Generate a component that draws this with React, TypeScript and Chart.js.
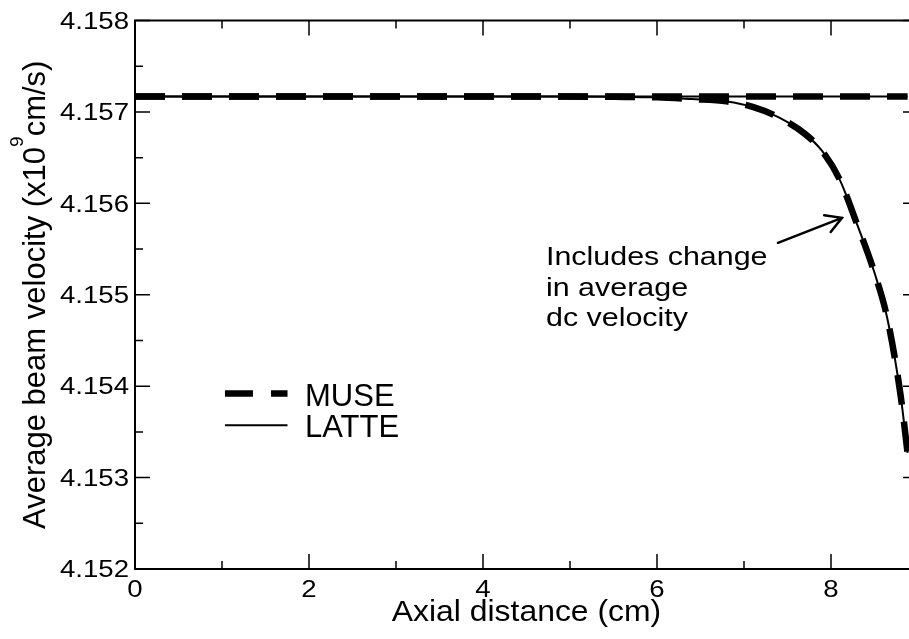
import React, { useEffect, useRef } from "react";
import { Chart, registerables } from "chart.js";
Chart.register(...registerables);

// ---- data ----
const xDistance = [0, 1, 2, 3, 4, 5, 5.5, 6, 6.4, 6.8, 7.1, 7.4, 7.7, 7.9, 8.1, 8.3, 8.5, 8.65, 8.8, 8.88];
const museWithDc = [4.15717, 4.15717, 4.15717, 4.15717, 4.15717, 4.157168, 4.157165, 4.15716, 4.15714, 4.157115, 4.157055, 4.15694, 4.15676, 4.15657, 4.15626, 4.15577, 4.15524, 4.15473, 4.1539, 4.15327];
const latteWithDc = [4.15717, 4.15717, 4.15717, 4.15717, 4.15717, 4.157168, 4.157165, 4.15716, 4.15714, 4.157115, 4.157055, 4.15694, 4.15676, 4.15657, 4.15626, 4.15577, 4.15524, 4.15473, 4.1539, 4.15327];
const museFlat = [4.15717, 4.15717, 4.15717, 4.15717, 4.15717, 4.15717, 4.15717, 4.15717, 4.15717, 4.15717, 4.15717, 4.15717, 4.15717, 4.15717, 4.15717, 4.15717, 4.15717, 4.15717, 4.15717, 4.15717];
const latteFlat = [4.15717, 4.15717, 4.15717, 4.15717, 4.15717, 4.15717, 4.15717, 4.15717, 4.15717, 4.15717, 4.15717, 4.15717, 4.15717, 4.15717, 4.15717, 4.15717, 4.15717, 4.15717, 4.15717, 4.15717];

const xMajorTicks = [0, 2, 4, 6, 8];
const xMinorTicks = [1, 3, 5, 7];
const xTickLabels = ["0", "2", "4", "6", "8"];
const yMajorTicks = [4.152, 4.153, 4.154, 4.155, 4.156, 4.157, 4.158];
const yMinorTicks = [4.1525, 4.1535, 4.1545, 4.1555, 4.1565, 4.1575];
const yTickLabels = ["4.152", "4.153", "4.154", "4.155", "4.156", "4.157", "4.158"];

const xTitle = "Axial distance (cm)";
const yTitleMain = "Average beam velocity (x10";
const yTitleSup = "9";
const yTitleEnd = "cm/s)";
const legendLabels = ["MUSE", "LATTE"];
const noteLines = ["Includes change", "in average", "dc velocity"];
// annotation anchors in data coordinates
const noteAnchor = { x: 4.724, y: [4.155328, 4.15499, 4.15466] };
const arrowTail = { x: 7.39, y: 4.155568 };
const arrowTip = { x: 8.126, y: 4.155841 };
const legendSample = { x0: 1.034, x1: 1.753, y: [4.153921, 4.153572], textX: 1.954, textY: [4.153787, 4.153445] };

const FONT = '"Liberation Sans", Arial, Helvetica, sans-serif';
const CANVAS_W = 930;
const CANVAS_H = 639;

function drawText(
  ctx: CanvasRenderingContext2D,
  s: string,
  x: number,
  y: number,
  size: number,
  sx: number,
  align: CanvasTextAlign
) {
  ctx.save();
  ctx.translate(x, y);
  ctx.scale(sx, 1);
  ctx.font = `${size}px ${FONT}`;
  ctx.textAlign = align;
  ctx.textBaseline = "alphabetic";
  ctx.fillStyle = "#000";
  ctx.fillText(s, 0, 0);
  ctx.restore();
}

const framePlugin = {
  id: "framePlugin",
  afterDatasetsDraw(chart: any) {
    const ctx: CanvasRenderingContext2D = chart.ctx;
    const xs = chart.scales.x;
    const ys = chart.scales.y;
    const { left, right, top, bottom } = chart.chartArea;
    ctx.save();
    ctx.strokeStyle = "#000";
    // ticks
    ctx.lineWidth = 1.5;
    ctx.beginPath();
    const major = 15;
    const minor = 8;
    xMajorTicks.forEach((v) => {
      const p = xs.getPixelForValue(v);
      ctx.moveTo(p, bottom); ctx.lineTo(p, bottom - major);
      ctx.moveTo(p, top); ctx.lineTo(p, top + major);
    });
    xMinorTicks.forEach((v) => {
      const p = xs.getPixelForValue(v);
      ctx.moveTo(p, bottom); ctx.lineTo(p, bottom - minor);
      ctx.moveTo(p, top); ctx.lineTo(p, top + minor);
    });
    yMajorTicks.forEach((v) => {
      const p = ys.getPixelForValue(v);
      ctx.moveTo(left, p); ctx.lineTo(left + major, p);
      ctx.moveTo(right, p); ctx.lineTo(right - major, p);
    });
    yMinorTicks.forEach((v) => {
      const p = ys.getPixelForValue(v);
      ctx.moveTo(left, p); ctx.lineTo(left + minor, p);
      ctx.moveTo(right, p); ctx.lineTo(right - minor, p);
    });
    ctx.stroke();
    // frame
    ctx.lineWidth = 2;
    ctx.strokeRect(left, top, right - left, bottom - top);

    // tick labels
    xMajorTicks.forEach((v, i) => {
      drawText(ctx, xTickLabels[i], xs.getPixelForValue(v), bottom + 27.5, 23, 1.2, "center");
    });
    yMajorTicks.forEach((v, i) => {
      drawText(ctx, yTickLabels[i], left - 6, ys.getPixelForValue(v) + 8.3, 23, 1.2, "right");
    });

    // x title
    drawText(ctx, xTitle, (left + right) / 2, bottom + 52, 29, 1.1, "center");

    // y title (rotated, with superscript)
    ctx.save();
    const cy = (top + bottom) / 2;
    ctx.translate(45, cy);
    ctx.rotate(-Math.PI / 2);
    ctx.fillStyle = "#000";
    ctx.textBaseline = "alphabetic";
    ctx.textAlign = "left";
    ctx.font = `31px ${FONT}`;
    const w1 = ctx.measureText(yTitleMain).width;
    const w3 = ctx.measureText(yTitleEnd).width;
    ctx.font = `19px ${FONT}`;
    const w2 = ctx.measureText(yTitleSup).width;
    const total = w1 + w2 + w3;
    let cx = -total / 2;
    ctx.font = `31px ${FONT}`;
    ctx.fillText(yTitleMain, cx, 0);
    cx += w1;
    ctx.font = `19px ${FONT}`;
    ctx.fillText(yTitleSup, cx, -22);
    cx += w2;
    ctx.font = `31px ${FONT}`;
    ctx.fillText(yTitleEnd, cx, 0);
    ctx.restore();

    // legend
    const lx0 = xs.getPixelForValue(legendSample.x0);
    const lx1 = xs.getPixelForValue(legendSample.x1);
    ctx.save();
    ctx.lineCap = "butt";
    ctx.lineWidth = 6.5;
    ctx.setLineDash([28, 18]);
    ctx.beginPath();
    const ly0 = ys.getPixelForValue(legendSample.y[0]);
    ctx.moveTo(lx0, ly0); ctx.lineTo(lx1, ly0);
    ctx.stroke();
    ctx.setLineDash([]);
    ctx.lineWidth = 2;
    ctx.beginPath();
    const ly1 = ys.getPixelForValue(legendSample.y[1]);
    ctx.moveTo(lx0, ly1); ctx.lineTo(lx1, ly1);
    ctx.stroke();
    ctx.restore();
    const tx = xs.getPixelForValue(legendSample.textX);
    legendLabels.forEach((l, i) => {
      drawText(ctx, l, tx, ys.getPixelForValue(legendSample.textY[i]), 31, 1.0, "left");
    });

    // annotation
    const nx = xs.getPixelForValue(noteAnchor.x);
    noteLines.forEach((l, i) => {
      drawText(ctx, l, nx, ys.getPixelForValue(noteAnchor.y[i]), 26, 1.17, "left");
    });
    const ax0 = xs.getPixelForValue(arrowTail.x);
    const ay0 = ys.getPixelForValue(arrowTail.y);
    const ax1 = xs.getPixelForValue(arrowTip.x);
    const ay1 = ys.getPixelForValue(arrowTip.y);
    const ang = Math.atan2(ay0 - ay1, ax0 - ax1);
    const hl = 18;
    const ha = (30 * Math.PI) / 180;
    ctx.lineWidth = 2.5;
    ctx.lineCap = "round";
    ctx.beginPath();
    ctx.moveTo(ax0, ay0); ctx.lineTo(ax1, ay1);
    ctx.moveTo(ax1 + hl * Math.cos(ang + ha), ay1 + hl * Math.sin(ang + ha));
    ctx.lineTo(ax1, ay1);
    ctx.lineTo(ax1 + hl * Math.cos(ang - ha), ay1 + hl * Math.sin(ang - ha));
    ctx.stroke();
    ctx.restore();
  },
};

export default function App() {
  const ref = useRef<HTMLCanvasElement | null>(null);
  useEffect(() => {
    if (!ref.current) return;
    const pts = (ys: number[]) => xDistance.map((x, i) => ({ x, y: ys[i] }));
    const chart = new Chart(ref.current, {
      type: "line",
      data: {
        datasets: [
          { label: "LATTE", data: pts(latteFlat), borderColor: "#000", borderWidth: 2, pointRadius: 0, fill: false, cubicInterpolationMode: "monotone" },
          { label: "LATTE (dc)", data: pts(latteWithDc), borderColor: "#000", borderWidth: 2, pointRadius: 0, fill: false, cubicInterpolationMode: "monotone" },
          { label: "MUSE", data: pts(museFlat), borderColor: "#000", borderWidth: 6.5, borderDash: [30, 17], borderCapStyle: "butt", pointRadius: 0, fill: false, cubicInterpolationMode: "monotone" },
          { label: "MUSE (dc)", data: pts(museWithDc), borderColor: "#000", borderWidth: 6.5, borderDash: [30, 17], borderCapStyle: "butt", pointRadius: 0, fill: false, cubicInterpolationMode: "monotone" },
        ],
      },
      options: {
        animation: false,
        responsive: false,
        maintainAspectRatio: false,
        devicePixelRatio: 1,
        layout: { padding: { left: 135, top: 20.5, right: CANVAS_W - 918, bottom: CANVAS_H - 569 } },
        plugins: { legend: { display: false }, tooltip: { enabled: false } },
        scales: {
          x: { type: "linear", min: 0, max: 9, display: false },
          y: { type: "linear", min: 4.152, max: 4.158, display: false },
        },
      },
      plugins: [framePlugin],
    });
    return () => chart.destroy();
  }, []);
  return (
    <div style={{ position: "absolute", left: 0, top: 0, width: 909, height: 639, overflow: "hidden", background: "#fff" }}>
      <canvas ref={ref} width={CANVAS_W} height={CANVAS_H} style={{ display: "block", width: CANVAS_W, height: CANVAS_H }} />
    </div>
  );
}
